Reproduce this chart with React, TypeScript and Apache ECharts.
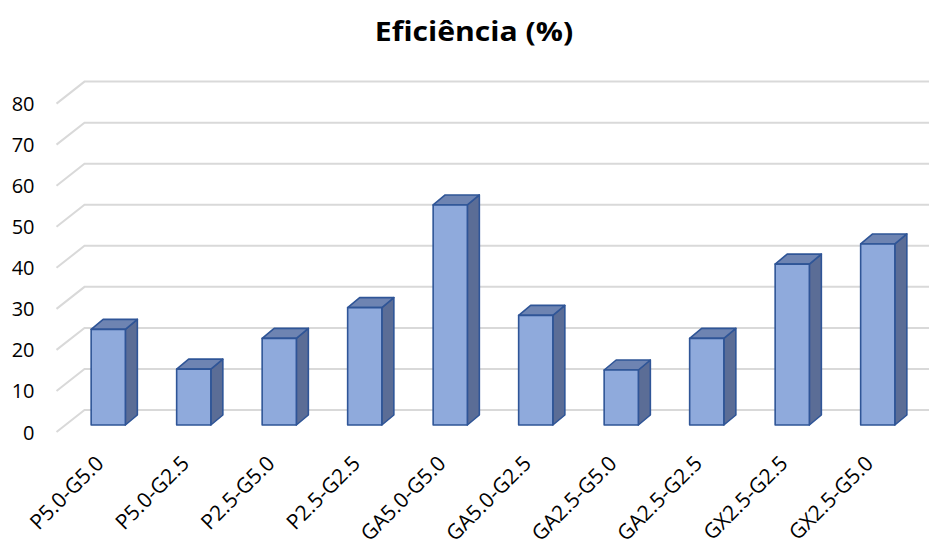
import React, { useEffect, useRef } from "react";
import * as echarts from "echarts";

const categories = [
  "P5.0-G5.0",
  "P5.0-G2.5",
  "P2.5-G5.0",
  "P2.5-G2.5",
  "GA5.0-G5.0",
  "GA5.0-G2.5",
  "GA2.5-G5.0",
  "GA2.5-G2.5",
  "GX2.5-G2.5",
  "GX2.5-G5.0",
];
const efficiency = [23.3, 13.6, 21.1, 28.6, 53.6, 26.7, 13.4, 21.1, 39.2, 44.1];
const yTicks = [0, 10, 20, 30, 40, 50, 60, 70, 80];
const chartTitle = "Eficiência (%)";

const FONT = "'Open Sans', Lato, sans-serif";

// oblique projection offsets for the 3D look
const WALL_DX = 28;
const WALL_DY = 22;
const BAR_OX = 9;
const BAR_OY = 7;
const DEPTH_DX = 12;
const DEPTH_DY = 10;

export default function App() {
  const ref = useRef<HTMLDivElement>(null);

  useEffect(() => {
    if (!ref.current) return;
    const chart = echarts.init(ref.current, null, { renderer: "svg" });

    const gridSeries = {
      type: "custom",
      silent: true,
      z: 1,
      data: yTicks.map((v) => [0, v]),
      renderItem: (params: any, api: any) => {
        const cs = params.coordSys;
        const y = api.coord([0, api.value(1)])[1];
        const x0 = cs.x;
        return {
          type: "polyline",
          shape: {
            points: [
              [x0, y],
              [x0 + WALL_DX, y - WALL_DY],
              [x0 + cs.width + WALL_DX + 40, y - WALL_DY],
            ],
          },
          style: { stroke: "#D9D9D9", lineWidth: 2, fill: "none" },
        };
      },
    };

    const barSeries = {
      type: "custom",
      z: 2,
      data: efficiency.map((v, i) => [i, v]),
      renderItem: (params: any, api: any) => {
        const i = api.value(0);
        const v = api.value(1);
        const top = api.coord([i, v]);
        const base = api.coord([i, 0]);
        const w = api.size([1, 0])[0] * 0.4;
        const L = top[0] - w / 2 + BAR_OX;
        const R = top[0] + w / 2 + BAR_OX;
        const T = top[1] - BAR_OY;
        const B = base[1] - BAR_OY;
        const stroke = { stroke: "#2F5597", lineWidth: 1.6, lineJoin: "round" };
        return {
          type: "group",
          children: [
            {
              type: "polygon",
              shape: {
                points: [
                  [R, T],
                  [R + DEPTH_DX, T - DEPTH_DY],
                  [R + DEPTH_DX, B - DEPTH_DY],
                  [R, B],
                ],
              },
              style: { fill: "#5B6D96", ...stroke },
            },
            {
              type: "polygon",
              shape: {
                points: [
                  [L, T],
                  [R, T],
                  [R + DEPTH_DX, T - DEPTH_DY],
                  [L + DEPTH_DX, T - DEPTH_DY],
                ],
              },
              style: { fill: "#6E84B2", ...stroke },
            },
            {
              type: "rect",
              shape: { x: L, y: T, width: R - L, height: B - T },
              style: { fill: "#8FAADC", ...stroke },
            },
          ],
        };
      },
    };

    chart.setOption({
      animation: false,
      graphic: [
        {
          type: "text",
          x: 474,
          y: 31,
          scaleX: 1.16,
          style: {
            text: chartTitle,
            fontFamily: FONT,
            fontWeight: "bold",
            fontSize: 26,
            fill: "#000000",
            align: "center",
            verticalAlign: "middle",
          },
        },
      ],
      grid: {
        left: 56.5,
        right: 17.5,
        top: 103.6,
        bottom: 107,
        containLabel: false,
        outerBoundsMode: "none",
      },
      xAxis: {
        type: "category",
        data: categories,
        axisLine: { show: false },
        axisTick: { show: false },
        splitLine: { show: false },
        axisLabel: {
          rotate: 45,
          interval: 0,
          margin: 27,
          fontFamily: FONT,
          fontSize: 21,
          color: "#000000",
        },
      },
      yAxis: {
        type: "value",
        min: 0,
        max: 80,
        interval: 10,
        axisLine: { show: false },
        axisTick: { show: false },
        splitLine: { show: false },
        axisLabel: {
          margin: 22,
          fontFamily: FONT,
          fontSize: 20,
          color: "#000000",
        },
      },
      series: [gridSeries, barSeries],
    });

    return () => chart.dispose();
  }, []);

  return (
    <div
      ref={ref}
      style={{ position: "fixed", left: 0, top: 0, width: 929, height: 539, background: "#fff" }}
    />
  );
}
